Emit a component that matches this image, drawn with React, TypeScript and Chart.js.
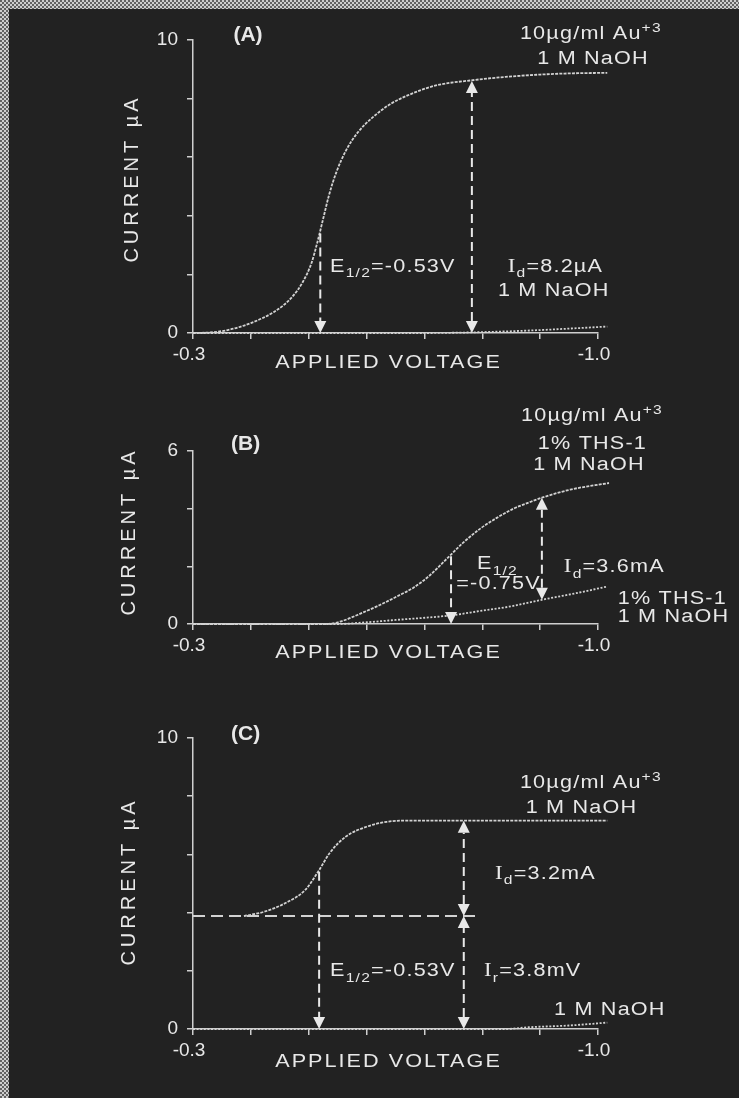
import React, { useEffect, useRef } from 'react';
import { Chart, registerables } from 'chart.js';

Chart.register(...registerables);

// ---------------- data (voltage in V, current in µA) ----------------
const X_TICK_LABELS: [number, string][] = [[-0.3, '-0.3'], [-1.0, '-1.0']];

// Panel A
const A_AU_VOLT = [-0.3, -0.33, -0.36, -0.4, -0.44, -0.47, -0.49, -0.505, -0.515, -0.525, -0.535, -0.548, -0.565, -0.585, -0.61, -0.64, -0.67, -0.72, -0.78, -0.84, -0.9, -0.95, -1.016];
const A_AU_CURR = [0, 0.02, 0.1, 0.34, 0.72, 1.2, 1.75, 2.4, 3.1, 3.9, 4.7, 5.5, 6.25, 6.85, 7.35, 7.8, 8.1, 8.45, 8.62, 8.74, 8.82, 8.86, 8.88];
const A_NAOH_VOLT = [-0.3, -0.7, -0.8, -0.9, -0.95, -1.016];
const A_NAOH_CURR = [0, 0, 0.03, 0.1, 0.15, 0.22];

// Panel B
const B_AU_VOLT = [-0.3, -0.53, -0.554, -0.594, -0.623, -0.652, -0.681, -0.71, -0.738, -0.767, -0.796, -0.825, -0.854, -0.884, -0.903, -0.952, -1.019];
const B_AU_CURR = [0, 0, 0.08, 0.4, 0.66, 0.95, 1.26, 1.7, 2.25, 2.82, 3.3, 3.68, 4.0, 4.24, 4.38, 4.66, 4.89];
const B_THS_VOLT = [-0.3, -0.55, -0.6, -0.65, -0.746, -0.796, -0.846, -0.903, -0.96, -1.016];
const B_THS_CURR = [0, 0, 0.06, 0.14, 0.3, 0.45, 0.6, 0.84, 1.06, 1.3];

// Panel C
const C_AU_VOLT = [-0.388, -0.423, -0.459, -0.494, -0.518, -0.536, -0.564, -0.6, -0.635, -0.663, -0.8, -1.016];
const C_AU_CURR = [3.88, 4.03, 4.32, 4.78, 5.46, 6.04, 6.61, 6.95, 7.12, 7.16, 7.16, 7.16];
const C_NAOH_VOLT = [-0.3, -0.84, -0.88, -0.95, -1.016];
const C_NAOH_CURR = [0, 0, 0.06, 0.12, 0.22];
const C_RESID_VOLT = [-0.3, -0.797];
const C_RESID_CURR = [3.88, 3.88];

// ---------------- styling ----------------
const W = 739;
const H = 1098;
const BG = '#222222';
const INK = '#e8e8e8';
const CURVE = '#d2d2d2';
const AXIS = '#cfcfcf';
const SANS = '"Liberation Sans", Arial, sans-serif';
const SERIF = '"Liberation Serif", "Times New Roman", serif';
const Y_W = 60;
const X_H = 40;

type Series = { v: number[]; i: number[]; dash: number[]; width: number };
type Arrow = { v: number; from: number; to: number; headFrom: boolean; headTo: boolean };
type Label = { text: string; v: number; i: number; bold?: boolean; center?: boolean };
type Panel = {
  key: string;
  top: number;
  height: number;
  area: { left: number; right: number; top: number; bottom: number };
  yMax: number;
  series: Series[];
  arrows: Arrow[];
  labels: Label[];
  yTitleDx: number;
  yTitleDy: number;
  xTitleDx: number;
  xTitleDy: number;
};

const TEXT_SCALE = 1.2;
const TEXT_SPACING = 1;
const X_TITLE_SPACING = 1.7;
const Y_TITLE_SPACING = 4;
const AU_DASH = [3, 1.2];
const BASE_DASH = [2, 1.6];

const PANELS: Panel[] = [
  {
    key: 'A',
    top: 0,
    height: 380,
    area: { left: 193, right: 598, top: 40, bottom: 333 },
    yMax: 10,
    series: [
      { v: A_NAOH_VOLT, i: A_NAOH_CURR, dash: BASE_DASH, width: 1.8 },
      { v: A_AU_VOLT, i: A_AU_CURR, dash: AU_DASH, width: 1.8 },
    ],
    arrows: [
      { v: -0.52, from: 3.4, to: 0, headFrom: false, headTo: true },
      { v: -0.782, from: 0, to: 8.6, headFrom: true, headTo: true },
    ],
    labels: [
      { text: '(A)', v: -0.395, i: 10.24, bold: true, center: true },
      { text: '10µg/ml Au^{+3}', v: -0.865, i: 10.24 },
      { text: '1 M NaOH', v: -0.895, i: 9.39 },
      { text: 'E_{1/2}=-0.53V', v: -0.537, i: 2.32 },
      { text: '~{I}_{d}=8.2µA', v: -0.844, i: 2.32 },
      { text: '1 M NaOH', v: -0.827, i: 1.47 },
    ],
    yTitleDx: -61,
    yTitleDy: -6,
    xTitleDx: -8,
    xTitleDy: 30,
  },
  {
    key: 'B',
    top: 380,
    height: 320,
    area: { left: 193, right: 598, top: 71, bottom: 244 },
    yMax: 6,
    series: [
      { v: B_THS_VOLT, i: B_THS_CURR, dash: BASE_DASH, width: 1.8 },
      { v: B_AU_VOLT, i: B_AU_CURR, dash: AU_DASH, width: 1.8 },
    ],
    arrows: [
      { v: -0.746, from: 2.35, to: 0, headFrom: false, headTo: true },
      { v: -0.903, from: 0.84, to: 4.38, headFrom: true, headTo: true },
    ],
    labels: [
      { text: '(B)', v: -0.391, i: 6.28, bold: true, center: true },
      { text: '10µg/ml Au^{+3}', v: -0.867, i: 7.25 },
      { text: '1% THS-1', v: -0.896, i: 6.31 },
      { text: '1 M NaOH', v: -0.888, i: 5.58 },
      { text: 'E_{1/2}', v: -0.791, i: 2.13 },
      { text: '=-0.75V', v: -0.755, i: 1.43 },
      { text: '~{I}_{d}=3.6mA', v: -0.941, i: 2.02 },
      { text: '1% THS-1', v: -1.034, i: 0.93 },
      { text: '1 M NaOH', v: -1.034, i: 0.3 },
    ],
    yTitleDx: -64,
    yTitleDy: -4,
    xTitleDx: -8,
    xTitleDy: 29,
  },
  {
    key: 'C',
    top: 700,
    height: 398,
    area: { left: 193, right: 598, top: 38, bottom: 329 },
    yMax: 10,
    series: [
      { v: C_NAOH_VOLT, i: C_NAOH_CURR, dash: BASE_DASH, width: 1.8 },
      { v: C_AU_VOLT, i: C_AU_CURR, dash: AU_DASH, width: 1.8 },
      { v: C_RESID_VOLT, i: C_RESID_CURR, dash: [12, 6], width: 2 },
    ],
    arrows: [
      { v: -0.518, from: 5.4, to: 0, headFrom: false, headTo: true },
      { v: -0.768, from: 3.88, to: 7.16, headFrom: true, headTo: true },
      { v: -0.768, from: 0, to: 3.88, headFrom: true, headTo: true },
    ],
    labels: [
      { text: '(C)', v: -0.391, i: 10.2, bold: true, center: true },
      { text: '10µg/ml Au^{+3}', v: -0.865, i: 8.49 },
      { text: '1 M NaOH', v: -0.875, i: 7.63 },
      { text: '~{I}_{d}=3.2mA', v: -0.822, i: 5.39 },
      { text: 'E_{1/2}=-0.53V', v: -0.537, i: 2.03 },
      { text: '~{I}_{r}=3.8mV', v: -0.803, i: 2.03 },
      { text: '1 M NaOH', v: -0.924, i: 0.69 },
    ],
    yTitleDx: -64,
    yTitleDy: 0,
    xTitleDx: -8,
    xTitleDy: 33,
  },
];

// ---------------- rich text helpers ----------------
type Seg = { t: string; kind: 'n' | 'sub' | 'sup' | 'serif' };

function parseRich(text: string): Seg[] {
  const re = /(_\{[^}]*\}|\^\{[^}]*\}|~\{[^}]*\})/;
  return text
    .split(re)
    .filter((s) => s.length > 0)
    .map((s) => {
      if (s.startsWith('_{')) return { t: s.slice(2, -1), kind: 'sub' as const };
      if (s.startsWith('^{')) return { t: s.slice(2, -1), kind: 'sup' as const };
      if (s.startsWith('~{')) return { t: s.slice(2, -1), kind: 'serif' as const };
      return { t: s, kind: 'n' as const };
    });
}

function fontFor(seg: Seg, size: number, bold: boolean) {
  if (seg.kind === 'sub' || seg.kind === 'sup') return `${Math.round(size * 0.72)}px ${SANS}`;
  if (seg.kind === 'serif') return `${size + 1}px ${SERIF}`;
  return `${bold ? 'bold ' : ''}${size}px ${SANS}`;
}

function drawRich(
  ctx: CanvasRenderingContext2D,
  text: string,
  x: number,
  yMid: number,
  size: number,
  spacing: number,
  sx: number,
  bold: boolean,
  center: boolean
) {
  const segs = parseRich(text);
  ctx.save();
  (ctx as any).letterSpacing = `${spacing}px`;
  ctx.textAlign = 'left';
  ctx.textBaseline = 'alphabetic';
  ctx.fillStyle = INK;
  const widths = segs.map((s) => {
    ctx.font = fontFor(s, size, bold);
    return ctx.measureText(s.t).width;
  });
  const total = widths.reduce((a, b) => a + b, 0) - spacing;
  const startX = center ? x - (total * sx) / 2 : x;
  ctx.translate(startX, yMid + size * 0.36);
  ctx.scale(sx, 1);
  let cx = 0;
  segs.forEach((s, k) => {
    ctx.font = fontFor(s, size, bold);
    const dy = s.kind === 'sub' ? size * 0.32 : s.kind === 'sup' ? -size * 0.42 : 0;
    ctx.fillText(s.t, cx, dy);
    cx += widths[k];
  });
  ctx.restore();
}

function drawHead(ctx: CanvasRenderingContext2D, x: number, tipY: number, dir: number) {
  const hw = 6;
  const hh = 12;
  ctx.beginPath();
  ctx.moveTo(x, tipY);
  ctx.lineTo(x - hw, tipY - dir * hh);
  ctx.lineTo(x + hw, tipY - dir * hh);
  ctx.closePath();
  ctx.fill();
}

function makePlugin(p: Panel) {
  return {
    id: 'annot' + p.key,
    afterDatasetsDraw(chart: any) {
      const ctx: CanvasRenderingContext2D = chart.ctx;
      const xs = chart.scales.x;
      const ys = chart.scales.y;
      const ca = chart.chartArea;

      // arrows
      ctx.save();
      ctx.strokeStyle = INK;
      ctx.fillStyle = INK;
      ctx.lineWidth = 2;
      p.arrows.forEach((a) => {
        const px = xs.getPixelForValue(a.v);
        const y1 = ys.getPixelForValue(a.from);
        const y2 = ys.getPixelForValue(a.to);
        const d2 = Math.sign(y2 - y1);
        const d1 = -d2;
        const s1 = a.headFrom ? y1 - d1 * 12 : y1;
        const s2 = a.headTo ? y2 - d2 * 12 : y2;
        ctx.setLineDash([9, 5]);
        ctx.beginPath();
        ctx.moveTo(px, s1);
        ctx.lineTo(px, s2);
        ctx.stroke();
        ctx.setLineDash([]);
        if (a.headFrom) drawHead(ctx, px, y1, d1);
        if (a.headTo) drawHead(ctx, px, y2, d2);
      });
      ctx.restore();

      // labels
      p.labels.forEach((l) => {
        const lx = xs.getPixelForValue(l.v);
        const ly = ys.getPixelForValue(l.i);
        drawRich(
          ctx,
          l.text,
          lx,
          ly,
          l.bold ? 21 : 18,
          l.bold ? 0 : TEXT_SPACING,
          l.bold ? 1 : TEXT_SCALE,
          !!l.bold,
          !!l.center
        );
      });

      // axis titles
      ctx.save();
      ctx.fillStyle = INK;
      ctx.font = `18px ${SANS}`;
      ctx.textBaseline = 'middle';
      ctx.textAlign = 'left';
      (ctx as any).letterSpacing = `${X_TITLE_SPACING}px`;
      const xt = 'APPLIED VOLTAGE';
      const xw = (ctx.measureText(xt).width - X_TITLE_SPACING) * TEXT_SCALE;
      ctx.save();
      ctx.translate((ca.left + ca.right) / 2 + p.xTitleDx - xw / 2, ca.bottom + p.xTitleDy);
      ctx.scale(TEXT_SCALE, 1);
      ctx.fillText(xt, 0, 0);
      ctx.restore();
      ctx.font = `20px ${SANS}`;
      (ctx as any).letterSpacing = `${Y_TITLE_SPACING}px`;
      const yt = 'CURRENT µA';
      const yw = ctx.measureText(yt).width - Y_TITLE_SPACING;
      ctx.translate(ca.left + p.yTitleDx, (ca.top + ca.bottom) / 2 + p.yTitleDy);
      ctx.rotate(-Math.PI / 2);
      ctx.fillText(yt, -yw / 2, 0);
      ctx.restore();
    },
  };
}

function PanelChart({ p }: { p: Panel }) {
  const ref = useRef<HTMLCanvasElement>(null);
  useEffect(() => {
    const canvas = ref.current;
    if (!canvas) return;
    const near = (a: number, b: number) => Math.abs(a - b) < 1e-6;
    const chart = new Chart(canvas, {
      type: 'line',
      data: {
        datasets: p.series.map((s) => ({
          data: s.v.map((v, k) => ({ x: v, y: s.i[k] })),
          borderColor: CURVE,
          borderWidth: s.width,
          borderDash: s.dash,
          pointRadius: 0,
          fill: false,
          cubicInterpolationMode: 'monotone' as const,
          clip: false as any,
        })),
      },
      options: {
        responsive: false,
        animation: false,
        events: [],
        layout: {
          padding: {
            left: p.area.left - Y_W,
            right: W - p.area.right,
            top: p.area.top,
            bottom: p.height - p.area.bottom - X_H,
          },
        },
        plugins: {
          legend: { display: false },
          tooltip: { enabled: false },
          title: { display: false },
        },
        scales: {
          x: {
            type: 'linear',
            min: -1.0,
            max: -0.3,
            reverse: true,
            afterFit: (s: any) => {
              s.height = X_H;
            },
            ticks: {
              stepSize: 0.1,
              autoSkip: false,
              maxRotation: 0,
              padding: 4,
              labelOffset: -4,
              color: INK,
              font: { family: SANS, size: 19 },
              callback: (val: any) => {
                const hit = X_TICK_LABELS.find(([v]) => near(v, Number(val)));
                return hit ? hit[1] : '';
              },
            },
            grid: { drawOnChartArea: false, drawTicks: true, tickLength: 6, color: AXIS, lineWidth: 1.5 },
            border: { display: true, color: AXIS, width: 1.5 },
          },
          y: {
            type: 'linear',
            min: 0,
            max: p.yMax,
            afterFit: (s: any) => {
              s.width = Y_W;
            },
            ticks: {
              stepSize: 2,
              autoSkip: false,
              padding: 9,
              color: INK,
              font: { family: SANS, size: 19 },
              callback: (val: any) => {
                const n = Number(val);
                return near(n, 0) || near(n, p.yMax) ? String(n) : '';
              },
            },
            grid: { drawOnChartArea: false, drawTicks: true, tickLength: 6, color: AXIS, lineWidth: 1.5 },
            border: { display: true, color: AXIS, width: 1.5 },
          },
        },
      } as any,
      plugins: [makePlugin(p)],
    });
    return () => chart.destroy();
  }, [p]);
  return (
    <canvas
      ref={ref}
      width={W}
      height={p.height}
      style={{ position: 'absolute', left: 0, top: p.top, width: W, height: p.height }}
    />
  );
}

export default function App() {
  return (
    <div
      style={{
        position: 'absolute',
        left: 0,
        top: 0,
        width: W,
        height: H,
        overflow: 'hidden',
        background: 'repeating-conic-gradient(#cdcdcd 0 25%, #626262 0 50%) 0 0 / 4px 4px',
      }}
    >
      <div style={{ position: 'absolute', left: 9, top: 9, right: 0, bottom: 0, background: BG }} />
      {PANELS.map((p) => (
        <PanelChart key={p.key} p={p} />
      ))}
    </div>
  );
}
